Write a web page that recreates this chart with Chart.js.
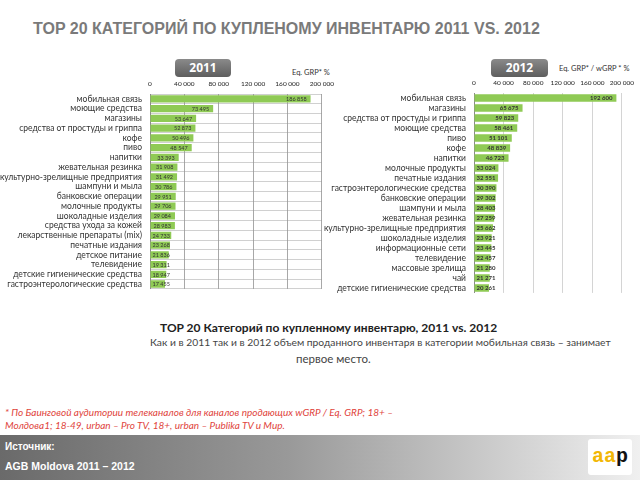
<!DOCTYPE html>
<html><head><meta charset="utf-8">
<script src="https://cdn.jsdelivr.net/npm/chart.js@4/dist/chart.umd.min.js"></script>
<style>
html,body{margin:0;padding:0;background:#fff;}
#page{position:relative;width:640px;height:480px;overflow:hidden;font-family:Lato,"Open Sans",sans-serif;}
.abs{position:absolute;white-space:nowrap;}
#title{left:33px;top:20px;font:bold 16px "Liberation Sans",Arial,sans-serif;color:#7a7a7a;}
.badge{position:absolute;height:18px;border-radius:4px;background:linear-gradient(#8a8a8a,#5e5e5e);color:#fff;font:bold 12px "Open Sans",sans-serif;text-align:center;line-height:18px;}
.eq{font:7.5px Lato,sans-serif;color:#333;}
#footer{position:absolute;left:0;top:435px;width:640px;height:45px;background:linear-gradient(to right,#6a6a6a,#999 45%,#f0f0f0);}
#logo{position:absolute;left:588px;top:439px;width:44px;height:36px;background:#fff;border-radius:3px;font:bold 20px "Liberation Mono",monospace;line-height:36px;text-align:center;}
canvas{position:absolute;}
</style></head>
<body><div id="page">
<div id="title" class="abs">TOP 20 КАТЕГОРИЙ ПО КУПЛЕНОМУ ИНВЕНТАРЮ 2011 VS. 2012</div>
<div class="badge" style="left:175px;top:59px;width:56px;">2011</div>
<div class="badge" style="left:491px;top:59px;width:57px;">2012</div>
<div class="abs eq" style="left:292px;top:68px;">Eq. GRP* %</div>
<div class="abs eq" style="left:559px;top:64px;">Eq. GRP* / wGRP * %</div>
<canvas id="c1" width="340" height="232" style="left:0;top:70px;"></canvas>
<canvas id="c2" width="320" height="237" style="left:320px;top:69px;"></canvas>
<div class="abs" style="left:160px;top:320px;font:bold 12px Lato,sans-serif;color:#222;">TOP 20 Категорий по купленному инвентарю, 2011 vs. 2012</div>
<div class="abs" style="left:150px;top:336px;font:10.3px Lato,sans-serif;color:#444;">Как и в 2011 так и в 2012 объем проданного инвентаря в категории мобильная связь – занимает</div>
<div class="abs" style="left:296px;top:352px;font:11.5px Lato,sans-serif;color:#444;">первое место.</div>
<div class="abs" style="left:5px;top:406px;font:italic 10px Lato,sans-serif;color:#e0443c;">* По Баинговой аудитории телеканалов для каналов продающих wGRP / Eq. GRP; 18+ –</div>
<div class="abs" style="left:5px;top:419px;font:italic 10px Lato,sans-serif;color:#e0443c;">Молдова1; 18-49, urban – Pro TV, 18+, urban – Publika TV и Мир.</div>
<div id="footer"></div>
<div class="abs" style="left:5px;top:441px;font:bold 10px 'Liberation Sans',sans-serif;color:#fff;">Источник:</div>
<div class="abs" style="left:5px;top:460px;font:bold 10.5px 'Liberation Sans',sans-serif;color:#fff;">AGB Moldova 2011 – 2012</div>
<div id="logo"><span style="color:#f2b705">aa</span><span style="color:#111">p</span></div>
</div>
<script>
const cats2011 = ['мобильная связь','моющие средства','магазины','средства от простуды и гриппа','кофе','пиво','напитки','жевательная резинка','культурно-зрелищные предприятия','шампуни и мыла','банковские операции','молочные продукты','шоколадные изделия','средства ухода за кожей','лекарственные препараты (mix)','печатные издания','детское питание','телевидение','детские гигиенические средства','гастроэнтерологические средства'];
const vals2011 = [186858,73495,53647,52873,50496,48547,33393,31908,31492,30786,29951,29706,29084,28983,24733,23268,21836,19311,18947,17455];
const cats2012 = ['мобильная связь','магазины','средства от простуды и гриппа','моющие средства','пиво','кофе','напитки','молочные продукты','печатные издания','гастроэнтерологические средства','банковские операции','шампуни и мыла','жевательная резинка','культурно-зрелищные предприятия','шоколадные изделия','информационные сети','телевидение','массовые зрелища','чай','детские гигиенические средства'];
const vals2012 = [192600,65675,59823,58461,51101,48839,46723,33024,32551,30390,29302,28403,27259,25662,23921,23445,22457,21280,21271,20261];
const tickLabels = ['0','40 000','80 000','120 000','160 000','200 000'];

const fmt = v => String(v).replace(/\B(?=(\d{3})+(?!\d))/g,' ');

function valuePlugin(font,color){
  return {id:'vals',afterDatasetsDraw(chart){
    const ctx=chart.ctx; const meta=chart.getDatasetMeta(0);
    ctx.save(); ctx.font=font; ctx.fillStyle=color; ctx.textBaseline='middle'; ctx.textAlign='left';
    meta.data.forEach((bar,i)=>{
      const t=fmt(chart.data.datasets[0].data[i]);
      const w=ctx.measureText(t).width;
      let x=bar.x-4-w; if(x<bar.base+2) x=bar.base+2;
      ctx.fillText(t,x,bar.y+0.5);
    });
    ctx.restore();
  }};
}

function makeChart(id,cats,vals,yWidth,padRight,gridColor,hGrid,valFont){
  return new Chart(document.getElementById(id),{
    type:'bar',
    data:{labels:cats,datasets:[{data:vals,backgroundColor:'#8fca55',borderWidth:0,barPercentage:0.75,categoryPercentage:1}]},
    options:{
      indexAxis:'y',responsive:false,animation:false,devicePixelRatio:1,
      layout:{padding:{left:0,right:padRight,top:0,bottom:4}},
      plugins:{legend:{display:false},tooltip:{enabled:false}},
      scales:{
        x:{position:'top',min:0,max:200000,
          ticks:{stepSize:40000,padding:6,color:'#222',maxRotation:0,minRotation:0,autoSkip:false,font:{family:'Lato',size:6.5},callback:(v,i)=>tickLabels[i]},
          grid:{color:gridColor,drawTicks:false},border:{display:false},
          afterFit:s=>{s.height=24;}},
        y:{ticks:{autoSkip:false,padding:8,color:'#333',font:{family:'Lato',size:8.5}},
          grid:{display:hGrid,color:'rgba(150,150,150,0.45)',drawTicks:false,offset:true},
          border:{display:true,color:'#8a8a8a'},
          afterFit:s=>{s.width=yWidth;}}
      }
    },
    plugins:[valuePlugin(valFont,'#333')]
  });
}
makeChart('c1',cats2011,vals2011,150,10,'#a8a8a8',true,'5.5px Lato');
makeChart('c2',cats2012,vals2012,154,12,'#d4d4d4',false,'bold 6px Lato');
</script>
</body></html>
